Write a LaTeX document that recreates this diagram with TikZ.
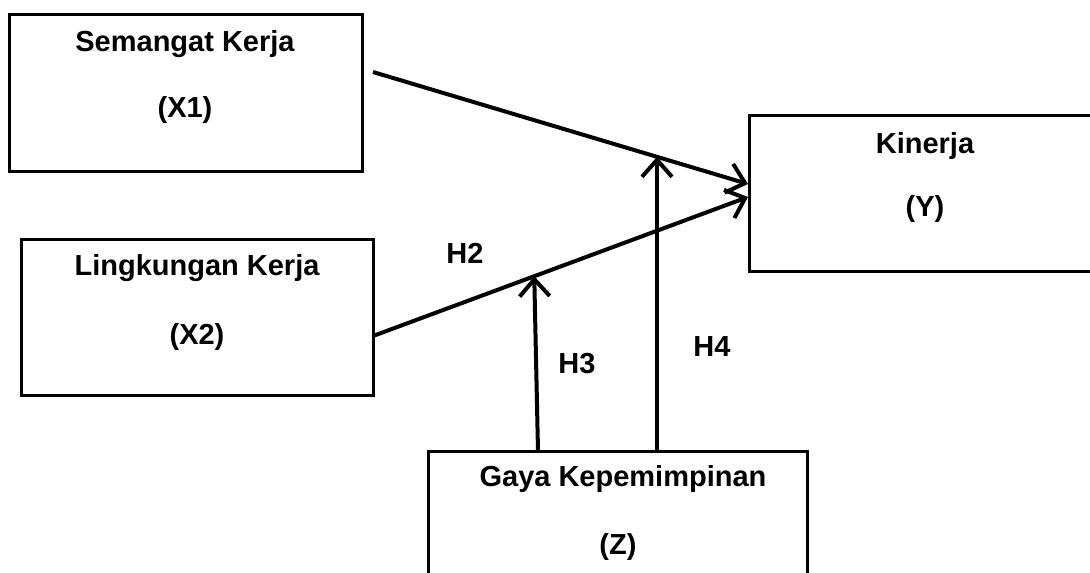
\documentclass[tikz,border=0pt]{standalone}
\usepackage{fontspec}
\setmainfont{Liberation Sans}
\usetikzlibrary{arrows.meta}
\begin{document}
\begin{tikzpicture}[x=1pt,y=-1pt,
  box/.style={draw=black,line width=3pt,rectangle,inner sep=0pt,outer sep=0pt},
  txt/.style={font=\fontsize{29}{33}\selectfont\bfseries,inner sep=0pt},
  conn/.style={line width=4pt,-{Straight Barb[length=17pt,width=30pt]}}]
\useasboundingbox (0,0) rectangle (1090,573);
\clip (0,0) rectangle (1090,573);
\fill[white] (0,0) rectangle (1090,573);
% boxes
\node[box,minimum width=353pt,minimum height=157pt] (X1) at (185.5,92.5) {};
\node[box,minimum width=352pt,minimum height=156pt] (X2) at (197,317) {};
\node[box,minimum width=352pt,minimum height=156pt] (Y) at (925,193) {};
\node[box,minimum width=379pt,minimum height=157pt] (Z) at (617.5,529.5) {};
% texts
\node[txt] (t1a) at (185,44) {Semangat Kerja};
\node[txt] (t1b) at (185,110) {(X1)};
\node[txt] (t2a) at (197,268) {Lingkungan Kerja};
\node[txt] (t2b) at (197,337) {(X2)};
\node[txt] (tya) at (925,146) {Kinerja};
\node[txt] (tyb) at (925,209) {(Y)};
\node[txt] (tza) at (623,479) {Gaya Kepemimpinan};
\node[txt] (tzb) at (618,547) {(Z)};
\node[txt] (h2) at (465,253) {H2};
\node[txt] (h3) at (577,364) {H3};
\node[txt] (h4) at (712,347) {H4};
% connectors
\coordinate (a1) at ([shift={(11,-20.5)}]X1.east);
\coordinate (a2) at ([shift={(0,19)}]X2.east);
\coordinate (e1) at ([shift={(-1,-9)}]Y.west);
\coordinate (e2) at ([shift={(-1,4)}]Y.west);
\draw[conn] (a1) -- (e1);
\draw[conn] (a2) -- (e2);
\coordinate (z3) at ([xshift=-79.5pt]Z.north);
\coordinate (z4) at ([xshift=39.5pt]Z.north);
\path (a2) -- (e2) coordinate[pos=0.43] (m2);
\path (a1) -- (e1) coordinate[pos=0.757] (m1);
\draw[conn] (z3) -- (m2);
\draw[conn] (z4) -- (z4 |- m1);
\end{tikzpicture}
\end{document}
